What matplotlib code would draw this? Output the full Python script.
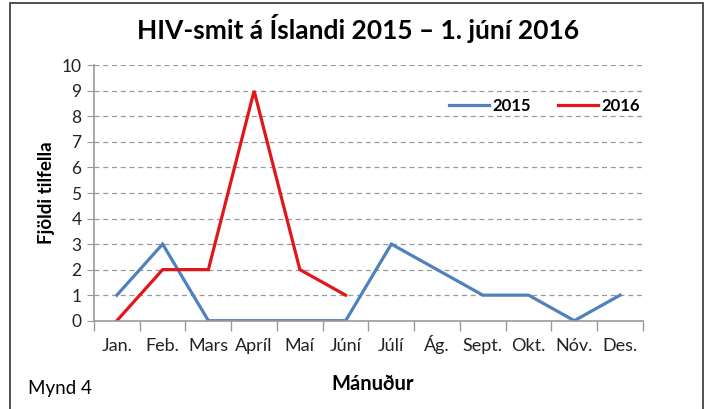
import numpy as np
import matplotlib.pyplot as plt
from matplotlib.patches import Rectangle

plt.rcParams['font.family'] = ['Lato', 'DejaVu Sans']

months = ["Jan.", "Feb.", "Mars", "Apríl", "Maí", "Júní",
          "Júlí", "Ág.", "Sept.", "Okt.", "Nóv.", "Des."]
y2015 = [1, 3, 0, 0, 0, 0, 3, 2, 1, 1, 0, 1]
y2016 = [0, 2, 2, 9, 2, 1]

fig = plt.figure(figsize=(7.1, 4.09), dpi=100)
ax = fig.add_axes([0.1324, 0.2159, 0.7732, 0.6244])

x = np.arange(len(months))
ax.plot(x, y2015, color="#4F81BD", lw=2.3, label="2015", solid_joinstyle="miter")
ax.plot(x[:len(y2016)], y2016, color="#E0161B", lw=2.3, label="2016", solid_joinstyle="miter")

ax.set_xlim(-0.5, len(months) - 0.5)
ax.set_ylim(0, 10)
ax.set_yticks(range(0, 11))
ax.set_xticks(x)
ax.set_xticklabels(months, fontsize=13, color="#222222", va="baseline")
ax.set_xticks(np.arange(-0.5, len(months)), minor=True)
ax.tick_params(axis="x", which="major", length=0, pad=22)
ax.tick_params(axis="x", which="minor", length=7, color="#999999", width=1)
ax.tick_params(axis="y", length=5, color="#999999", labelsize=12.5, labelcolor="#222222", pad=4)

for s in ["top", "right"]:
    ax.spines[s].set_visible(False)
for s in ["left", "bottom"]:
    ax.spines[s].set_color("#999999")
    ax.spines[s].set_linewidth(1.2)

for v in range(1, 11):
    ax.axhline(v, color="#999999", lw=0.9, ls=(0, (4, 3)), zorder=0)

ax.set_ylabel("Fjöldi tilfella", fontsize=13.5, fontweight="bold", labelpad=5)
fig.text(0.525, 0.061, "Mánuður", fontsize=14.5, fontweight="bold", ha="center", va="center")
fig.text(0.039, 0.049, "Mynd 4", fontsize=13.5, ha="left", va="center")
fig.text(0.504, 0.931, "HIV-smit á Íslandi 2015 – 1. júní 2016", fontsize=19,
         fontweight="bold", ha="center", va="center")

leg = ax.legend(loc="upper left", bbox_to_anchor=(0.62, 0.93), ncol=2, frameon=False,
                fontsize=12, handlelength=2.4, handletextpad=0.2, columnspacing=1.6)
for t in leg.get_texts():
    t.set_fontweight("bold")

fig.add_artist(Rectangle((10 / 710, -0.05), 693 / 710, 1 - 3 / 409 + 0.05,
                         transform=fig.transFigure, fill=False, ec="#333333", lw=1.2))

fig.savefig("out.png", dpi=100)
